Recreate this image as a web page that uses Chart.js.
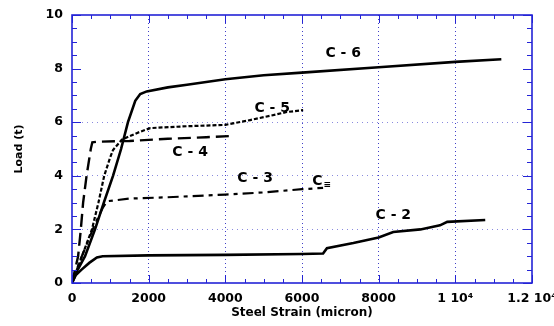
<!DOCTYPE html>
<html>
<head>
<meta charset="utf-8">
<script src="https://cdn.jsdelivr.net/npm/chart.js@4/dist/chart.umd.min.js"></script>
<style>
  body { margin: 0; background: #fff; }
  canvas { display: block; }
</style>
</head>
<body>
<canvas id="loadChart" width="554" height="326"></canvas>
<script>
// load vs steel strain for the five columns
const c6Strain = [0, 150, 340, 600, 830, 1070, 1280, 1460, 1650, 1780, 1950, 2500, 3000, 4000, 5000, 6000, 8000, 10000, 11200];
const c6Load = [0, 0.5, 1, 2, 3, 4, 5, 6, 6.8, 7.05, 7.15, 7.3, 7.4, 7.6, 7.75, 7.85, 8.05, 8.25, 8.35];

const c5Strain = [0, 260, 520, 690, 840, 990, 1070, 1300, 1700, 2040, 3000, 4000, 4650, 5200, 5600, 6030];
const c5Load = [0, 1, 2, 3, 4, 4.66, 4.96, 5.35, 5.6, 5.78, 5.85, 5.9, 6.08, 6.25, 6.38, 6.45];

const c4Strain = [0, 160, 230, 290, 380, 490, 530, 650, 1500, 2500, 3500, 4100];
const c4Load = [0, 1, 2, 3, 4, 5, 5.25, 5.27, 5.3, 5.38, 5.44, 5.48];

const c3Strain = [0, 200, 400, 600, 800, 910, 1500, 2500, 4000, 5000, 6000, 6550];
const c3Load = [0, 0.8, 1.5, 2.2, 2.8, 3.05, 3.15, 3.2, 3.3, 3.38, 3.5, 3.55];

const c2Strain = [0, 100, 250, 450, 650, 800, 2000, 4000, 6000, 6550, 6650, 7340, 8000, 8380, 9090, 9600, 9790, 10780];
const c2Load = [0, 0.3, 0.5, 0.75, 0.95, 1.0, 1.03, 1.05, 1.08, 1.1, 1.3, 1.49, 1.7, 1.9, 2.0, 2.15, 2.28, 2.35];

const xTickText = ['0', '2000', '4000', '6000', '8000', '1 10\u2074', '1.2 10\u2074'];
const yTickText = ['0', '2', '4', '6', '8', '10'];

// curve names written next to each line
const curveNames = ['C - 6', 'C - 5', 'C - 4', 'C - 3', 'C - 2'];
const nameStrain = [7075, 5222, 3081, 4778, 8381];
const nameLoad = [8.58, 6.53, 4.89, 3.92, 2.54];

const frameBlue = '#2424d6';

function pts(xs, ys) {
  return xs.map((x, i) => ({x: x, y: ys[i]}));
}

function line(data, dash, width) {
  return {
    data: data,
    showLine: true,
    borderColor: '#000',
    backgroundColor: '#000',
    borderWidth: width,
    borderDash: dash,
    pointRadius: 0,
    tension: 0,
  };
}

// blue box with inward ticks on all four sides
const framePlugin = {
  id: 'frame',
  afterDraw(chart) {
    const {ctx, chartArea: a, scales} = chart;
    const xs = scales.x, ys = scales.y;
    ctx.save();
    ctx.strokeStyle = frameBlue;
    ctx.lineWidth = 1;
    ctx.beginPath();
    for (let v = 0; v <= 12000; v += 500) {
      const px = Math.round(xs.getPixelForValue(v)) + 0.5;
      const len = v % 2000 === 0 ? 8 : 4;
      ctx.moveTo(px, a.bottom); ctx.lineTo(px, a.bottom - len);
      ctx.moveTo(px, a.top); ctx.lineTo(px, a.top + len);
    }
    for (let v = 0; v <= 10; v += 0.5) {
      const py = Math.round(ys.getPixelForValue(v)) + 0.5;
      const len = v % 2 === 0 ? 9 : 5;
      ctx.moveTo(a.left, py); ctx.lineTo(a.left + len, py);
      ctx.moveTo(a.right, py); ctx.lineTo(a.right - len, py);
    }
    ctx.stroke();
    ctx.lineWidth = 1.6;
    ctx.strokeRect(a.left, a.top, a.right - a.left, a.bottom - a.top);
    ctx.restore();
  },
};

const namesPlugin = {
  id: 'names',
  afterDatasetsDraw(chart) {
    const {ctx, scales} = chart;
    ctx.save();
    ctx.fillStyle = '#000';
    ctx.font = 'bold 14px "DejaVu Sans"';
    ctx.textAlign = 'center';
    ctx.textBaseline = 'middle';
    curveNames.forEach((name, i) => {
      ctx.fillText(name, scales.x.getPixelForValue(nameStrain[i]), scales.y.getPixelForValue(nameLoad[i]));
    });
    // odd little tag near the end of C-3
    const tx = scales.x.getPixelForValue(6400);
    const ty = scales.y.getPixelForValue(3.8);
    ctx.fillText('C', tx, ty);
    ctx.font = 'bold 9px "DejaVu Sans"';
    ctx.fillText('\u2261', tx + 10, ty + 3);
    ctx.restore();
  },
};

function gridColor(skip, col) {
  return (c) => (skip.includes(c.tick.value) ? 'rgba(0,0,0,0)' : col);
}

new Chart(document.getElementById('loadChart'), {
  type: 'scatter',
  data: {
    datasets: [
      line(pts(c6Strain, c6Load), [], 2.6),
      line(pts(c5Strain, c5Load), [4, 2], 2.2),
      line(pts(c4Strain, c4Load), [13, 6], 2.4),
      line(pts(c3Strain, c3Load), [11, 5, 4, 5], 2.2),
      line(pts(c2Strain, c2Load), [], 2.6),
    ],
  },
  options: {
    responsive: false,
    animation: false,
    layout: {padding: {top: 15, right: 22, left: 0, bottom: 0}},
    plugins: {
      legend: {display: false},
      tooltip: {enabled: false},
    },
    scales: {
      x: {
        type: 'linear',
        min: 0,
        max: 12000,
        border: {display: false, dash: [1, 3]},
        grid: {
          drawTicks: false,
          color: gridColor([0, 12000], 'rgba(30,30,190,0.85)'),
          lineWidth: 1,
        },
        ticks: {
          stepSize: 2000,
          autoSkip: false,
          maxRotation: 0,
          padding: 8,
          color: '#000',
          font: {family: 'DejaVu Sans', weight: 'bold', size: 12.5},
          callback: (v) => xTickText[v / 2000],
        },
        title: {
          display: true,
          text: 'Steel Strain (micron)',
          color: '#000',
          font: {family: 'DejaVu Sans', weight: 'bold', size: 12},
          padding: {top: 0, bottom: 6},
        },
        afterFit(s) {
          s.height = 43;
          s.paddingLeft = 0;
          s.paddingRight = 0;
        },
      },
      y: {
        type: 'linear',
        min: 0,
        max: 10,
        border: {display: false, dash: [1, 4]},
        grid: {
          drawTicks: false,
          color: gridColor([0, 8, 10], 'rgba(60,60,200,0.6)'),
          lineWidth: 1,
        },
        ticks: {
          stepSize: 2,
          padding: 9,
          color: '#000',
          font: {family: 'DejaVu Sans', weight: 'bold', size: 12.5},
          callback: (v) => yTickText[v / 2],
        },
        title: {
          display: true,
          text: 'Load (t)',
          color: '#000',
          font: {family: 'DejaVu Sans', weight: 'bold', size: 11},
          padding: {top: 13, bottom: 0},
        },
        afterFit(s) {
          s.width = 72;
          s.paddingTop = 0;
          s.paddingBottom = 0;
        },
      },
    },
  },
  plugins: [framePlugin, namesPlugin],
});
</script>
</body>
</html>
